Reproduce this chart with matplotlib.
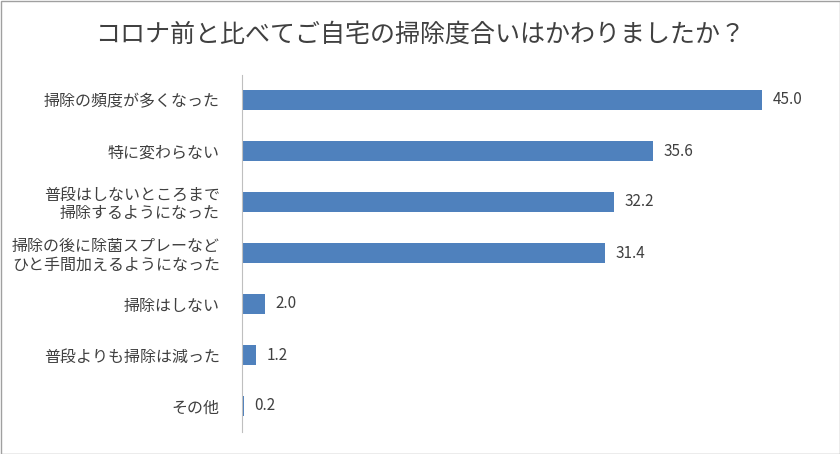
import matplotlib
matplotlib.use("Agg")
import matplotlib.pyplot as plt
from matplotlib.patches import Rectangle

plt.rcParams["font.family"] = "Noto Sans CJK JP"

title = "コロナ前と比べてご自宅の掃除度合いはかわりましたか？"
categories = ["掃除の頻度が多くなった", "特に変わらない", "普段はしないところまで\n掃除するようになった",
              "掃除の後に除菌スプレーなど\nひと手間加えるようになった", "掃除はしない", "普段よりも掃除は減った", "その他"]
values = [45.0, 35.6, 32.2, 31.4, 2.0, 1.2, 0.2]

W, H = 840, 454
fig = plt.figure(figsize=(W/100, H/100), dpi=100)
fig.patches.append(Rectangle((0.5/W, 0.5/H), 1-1/W, 1-1/H, transform=fig.transFigure,
                             fill=False, edgecolor="#A0A0A0", linewidth=1))
left, top, bottom = 242, 74.5, 431.5
width = 520/45*50
ax = fig.add_axes([left/W, 1-bottom/H, width/W, (bottom-top)/H])
y = list(range(len(values)))
ax.barh(y, values, height=0.4, color="#4F81BD")
ax.set_xlim(0, 50)
ax.set_ylim(len(values)-0.5, -0.5)
ax.set_yticks(y)
ax.set_yticklabels(categories, fontsize=11.5, color="#404040", linespacing=1.1)
ax.tick_params(axis="y", length=0, pad=16)
ax.set_xticks([])
for s in ["top", "right", "bottom"]:
    ax.spines[s].set_visible(False)
ax.spines["left"].set_color("#BFBFBF")
for yi, v in zip(y, values):
    ax.text(v + 0.9, yi, f"{v:.1f}", va="center", ha="left", fontsize=11, color="#404040")
fig.text(0.5, 1-35/H, title, ha="center", va="center", fontsize=18, color="#404040")
fig.savefig("out.png", dpi=100)
